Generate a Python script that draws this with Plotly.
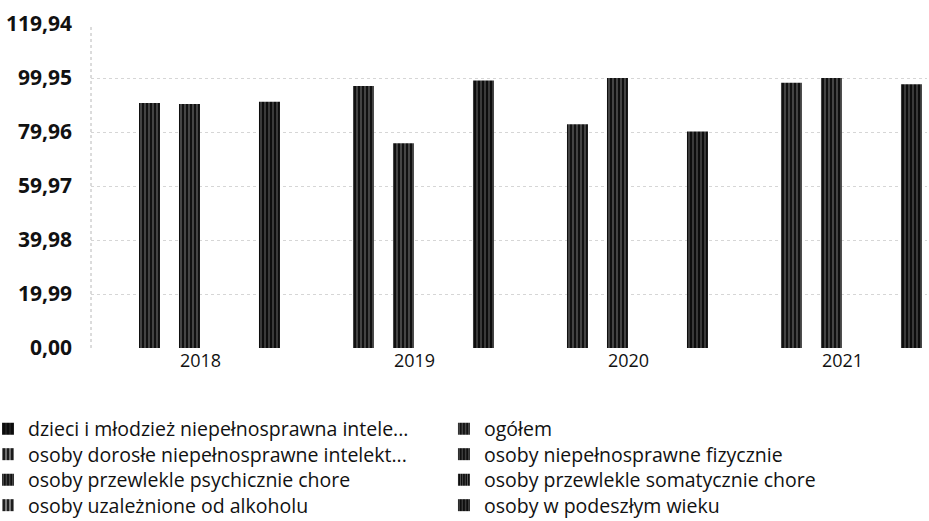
import plotly.graph_objects as go

# ---------------- data ----------------
years = ["2018", "2019", "2020", "2021"]

series_names = [
    "dzieci i młodzież niepełnosprawna intele...",
    "ogółem",
    "osoby dorosłe niepełnosprawne intelekt...",
    "osoby niepełnosprawne fizycznie",
    "osoby przewlekle psychicznie chore",
    "osoby przewlekle somatycznie chore",
    "osoby uzależnione od alkoholu",
    "osoby w podeszłym wieku",
]

dzieci = [None, None, None, None]
ogolem = [90.7, 97.0, 82.8, 98.2]
dorosle = [None, None, None, None]
fizycznie = [None, None, None, None]
psychicznie = [90.3, 75.8, 99.95, 99.95]
somatycznie = [None, None, None, None]
alkohol = [None, None, None, None]
podeszly = [91.2, 99.0, 80.1, 97.6]

y_tickvals = [0, 19.99, 39.98, 59.97, 79.96, 99.95, 119.94]

series_values = [dzieci, ogolem, dorosle, fizycznie, psychicznie, somatycznie, alkohol, podeszly]

# ---------------- styling ----------------
slots = [0, 0, 1, 1, 1, 2, 2, 3]
bar_width = 0.098
slot_start = -0.2874
slot_pitch = 0.1869

styles = [
    dict(color="#0c0c0c", fg="#8a8a8a", size=5, sol=0.15),
    dict(color="#111111", fg="#d0d0d0", size=4, sol=0.26),
    dict(color="#1a1a1a", fg="#eeeeee", size=5, sol=0.4),
    dict(color="#0f0f0f", fg="#c8c8c8", size=4, sol=0.25),
    dict(color="#101010", fg="#d8d8d8", size=4, sol=0.26),
    dict(color="#0e0e0e", fg="#b8b8b8", size=3, sol=0.3),
    dict(color="#1e1e1e", fg="#f2f2f2", size=5, sol=0.45),
    dict(color="#0d0d0d", fg="#c8c8c8", size=4, sol=0.24),
]

FONT = "Open Sans"
TXT = "#111111"

# legend grid: two columns, rows filled left to right
legend_x = [-0.1232, 0.4222]
legend_y = [-0.1898, -0.2685, -0.3472, -0.4259]

fig = go.Figure()
legends = {}
for i, (name, vals, slot, st) in enumerate(zip(series_names, series_values, slots, styles)):
    key = "legend" if i == 0 else f"legend{i + 1}"
    fig.add_trace(
        go.Bar(
            name=name,
            x=years,
            y=vals,
            width=bar_width,
            offset=slot_start + slot * slot_pitch,
            legend=key,
            marker=dict(
                color=st["color"],
                line=dict(width=0),
                pattern=dict(
                    shape="|",
                    fgcolor=st["fg"],
                    bgcolor=st["color"],
                    size=st["size"],
                    solidity=st["sol"],
                ),
            ),
        )
    )
    legends[key] = dict(
        orientation="v",
        x=legend_x[i % 2],
        y=legend_y[i // 2],
        xanchor="left",
        yanchor="top",
        itemwidth=30,
        font=dict(family=FONT, size=19.5, color=TXT),
        bgcolor="rgba(0,0,0,0)",
        itemclick=False,
        itemdoubleclick=False,
    )

fig.update_layout(
    width=929,
    height=521,
    margin=dict(l=91, r=2, t=24, b=173, autoexpand=False),
    paper_bgcolor="white",
    plot_bgcolor="white",
    separators=", ",
    barmode="group",
    showlegend=True,
    font=dict(family=FONT, color=TXT),
    xaxis=dict(
        type="category",
        range=[-0.5117, 3.395],
        showgrid=False,
        zeroline=False,
        showline=False,
        ticks="",
        tickfont=dict(family=FONT, size=18, color=TXT),
    ),
    yaxis=dict(
        range=[0, 119.94],
        tickvals=y_tickvals,
        tickformat=".2f",
        showgrid=True,
        gridcolor="#d6d6d6",
        griddash="dot",
        gridwidth=1,
        zeroline=False,
        showline=False,
        ticks="",
        ticklabelstandoff=18,
        tickfont=dict(family=FONT, size=21, color=TXT, weight="bold"),
    ),
    shapes=[
        dict(
            type="line",
            xref="paper",
            yref="paper",
            x0=0,
            x1=0,
            y0=0,
            y1=1,
            line=dict(color="#b8b8b8", width=1, dash="dot"),
            layer="below",
        )
    ],
    **legends,
)

fig.write_html(
    "out.html",
    config={"displayModeBar": False},
    post_script="document.body.style.margin='0px';document.body.style.padding='0px';",
)
